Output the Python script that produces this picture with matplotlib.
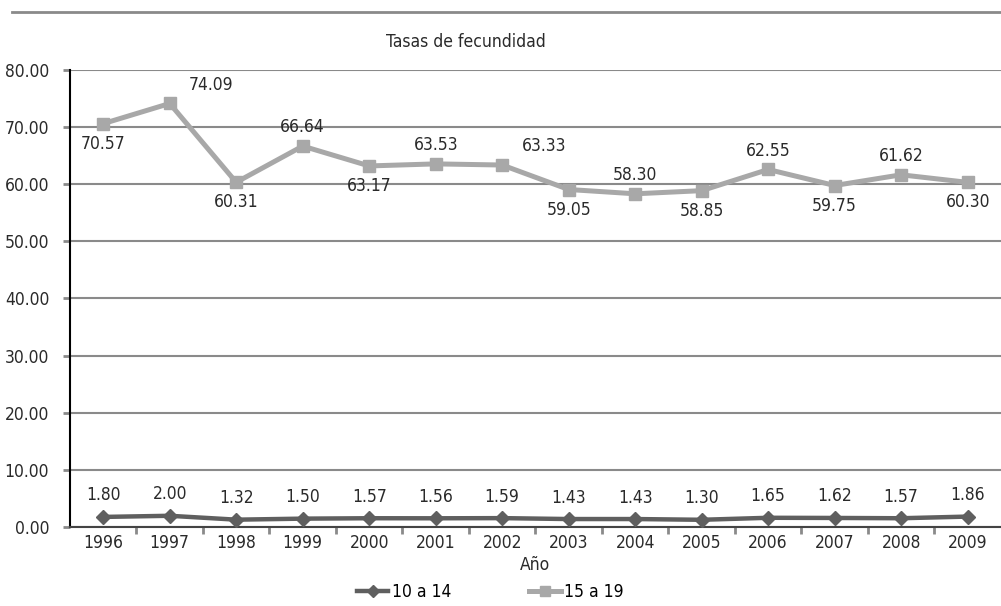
import matplotlib
matplotlib.use("Agg")
import matplotlib.pyplot as plt
from matplotlib.lines import Line2D

# Datos del gráfico
anios = ["1996", "1997", "1998", "1999", "2000", "2001", "2002",
         "2003", "2004", "2005", "2006", "2007", "2008", "2009"]
tasa_10_14 = [1.80, 2.00, 1.32, 1.50, 1.57, 1.56, 1.59,
              1.43, 1.43, 1.30, 1.65, 1.62, 1.57, 1.86]
tasa_15_19 = [70.57, 74.09, 60.31, 66.64, 63.17, 63.53, 63.33,
              59.05, 58.30, 58.85, 62.55, 59.75, 61.62, 60.30]
# posición de la etiqueta de 15 a 19: "a" arriba, "b" abajo, "d" arriba-derecha
pos_15_19 = ["b", "d", "b", "a", "b", "a", "d", "b", "a", "b", "a", "b", "a", "b"]

plt.rcParams['font.family'] = ['DejaVu Sans']
plt.rcParams['font.stretch'] = 'condensed'
plt.rcParams['font.size'] = 12.5

gris_oscuro = "#5f5f5f"
gris_claro = "#a8a8a8"
gris_grid = "#8a8a8a"
color_texto = "#2a2a2a"

fig = plt.figure(figsize=(10.01, 6.06), dpi=100)
ax = fig.add_axes([0.0699, 0.13, 0.93, 0.755])

x = list(range(len(anios)))
ax.plot(x, tasa_10_14, color=gris_oscuro, lw=3.2, marker="D", ms=7, zorder=3)
ax.plot(x, tasa_15_19, color=gris_claro, lw=3.6, marker="s", ms=9, zorder=3)

for i, v in enumerate(tasa_10_14):
    ax.annotate("%.2f" % v, (i, v), xytext=(0, 9), textcoords="offset points",
                ha="center", va="bottom", color=color_texto)

for i, v in enumerate(tasa_15_19):
    p = pos_15_19[i]
    if p == "a":
        off, ha, va = (0, 7), "center", "bottom"
    elif p == "b":
        off, ha, va = (0, -8), "center", "top"
    else:
        off, ha, va = (14, 7), "left", "bottom"
    ax.annotate("%.2f" % v, (i, v), xytext=off, textcoords="offset points",
                ha=ha, va=va, color=color_texto)

ax.set_xlim(-0.5, len(anios) - 0.5)
ax.set_ylim(0, 80)
ax.set_yticks(range(0, 81, 10))
ax.set_yticklabels(["%.2f" % v for v in range(0, 81, 10)])
ax.set_xticks(x)
ax.set_xticklabels(anios)
ax.set_xticks([i - 0.5 for i in range(1, len(anios))], minor=True)
ax.tick_params(axis="x", which="major", length=0, pad=5)
ax.tick_params(axis="x", which="minor", length=5, width=2, color=gris_grid, direction="out")
ax.tick_params(axis="y", length=5, width=2, color=gris_grid, pad=10)
ax.tick_params(which="both", labelcolor=color_texto)

ax.grid(axis="y", color=gris_grid, lw=1.5)
ax.set_axisbelow(True)
for s in ["top", "right"]:
    ax.spines[s].set_visible(False)
ax.spines["left"].set_color("black")
ax.spines["left"].set_linewidth(1.5)
ax.spines["bottom"].set_color("#444444")
ax.spines["bottom"].set_linewidth(1.5)

ax.set_xlabel("Año", labelpad=3, color=color_texto)
fig.text(0.465, 0.93, "Tasas de fecundidad", ha="center", va="center", color=color_texto)

# línea superior del marco
fig.add_artist(Line2D([0.012, 1.0], [0.98, 0.98], color=gris_grid, lw=2))

handles = [Line2D([], [], color=gris_oscuro, lw=3.2, marker="D", ms=6),
           Line2D([], [], color=gris_claro, lw=3.6, marker="s", ms=7)]
fig.legend(handles, ["10 a 14", "15 a 19"], loc="lower center",
           bbox_to_anchor=(0.49, -0.018), ncol=2, frameon=False,
           handlelength=1.8, handletextpad=0.2, columnspacing=4.5)

fig.savefig("out.png", dpi=100)
